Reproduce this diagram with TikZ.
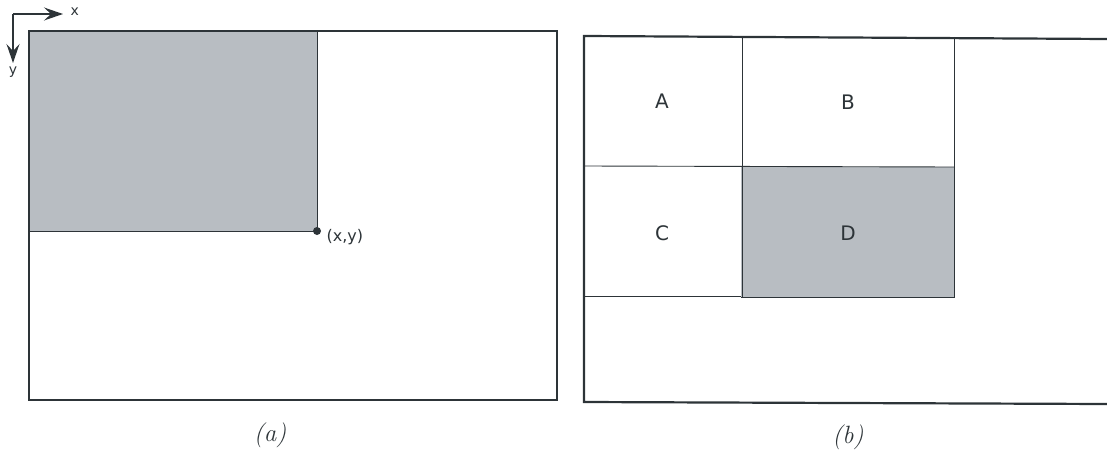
\documentclass[tikz,border=0pt]{standalone}
\usepackage{fontspec}
\newfontfamily\lblfont{DejaVu Sans}
\usetikzlibrary{arrows.meta}
\definecolor{boxgray}{RGB}{184,189,194}
\definecolor{ink}{RGB}{45,52,56}
\tikzset{
  frame/.style={draw=ink, line width=2.2pt},
  cell/.style={draw=ink, line width=0.9pt},
  lbl/.style={font=\lblfont\fontsize{20}{24}\selectfont, text=ink},
  captxt/.style={font=\fontsize{25}{28}\selectfont\itshape, text=ink},
  axis/.style={draw=ink, line width=1.6pt, -{Stealth[length=19pt,width=13pt,inset=7pt]}}
}
\begin{document}
\begin{tikzpicture}[x=1pt,y=-1pt]
\useasboundingbox (0,0) rectangle (1107,452);
% (a)
\fill[boxgray] (30,32) rectangle (317,231);
\draw[cell] (317,32) -- (317,231) -- (30,231);
\draw[frame] (29,31) rectangle (557,400);
\coordinate (o) at (13,14);
\coordinate (xe) at (63,14);
\coordinate (ye) at (13,63);
\draw[axis] (o) -- (xe);
\draw[axis] (o) -- (ye);
\node[lbl, font=\lblfont\fontsize{14}{16}\selectfont, anchor=west] (xl) at (67,12) {x};
\node[lbl, font=\lblfont\fontsize{14}{16}\selectfont] (yl) at (13,72) {y};
\fill[ink] (317,231) circle (4pt);
\node[lbl, font=\lblfont\fontsize{16}{18}\selectfont, anchor=west] (pt) at (323,237) {(x,y)};
\node[captxt] (ca) at (270,435) {(a)};
% (b)
\fill[boxgray] (741,167) rectangle (954,297);
\draw[cell] (742,37) -- (742,297);
\draw[cell] (954,37) -- (954,297) -- (741,297);
\draw[cell] (584,166) -- (954,167);
\draw[cell] (584,296) -- (741,296);
\draw[frame] (1107,39) -- (584,36) -- (584,402) -- (1107,404);
\node[lbl] (A) at (662,101) {A};
\node[lbl] (B) at (848,102) {B};
\node[lbl] (C) at (662,233) {C};
\node[lbl] (D) at (848,233) {D};
\node[captxt] (cb) at (848,437) {(b)};
\end{tikzpicture}
\end{document}
